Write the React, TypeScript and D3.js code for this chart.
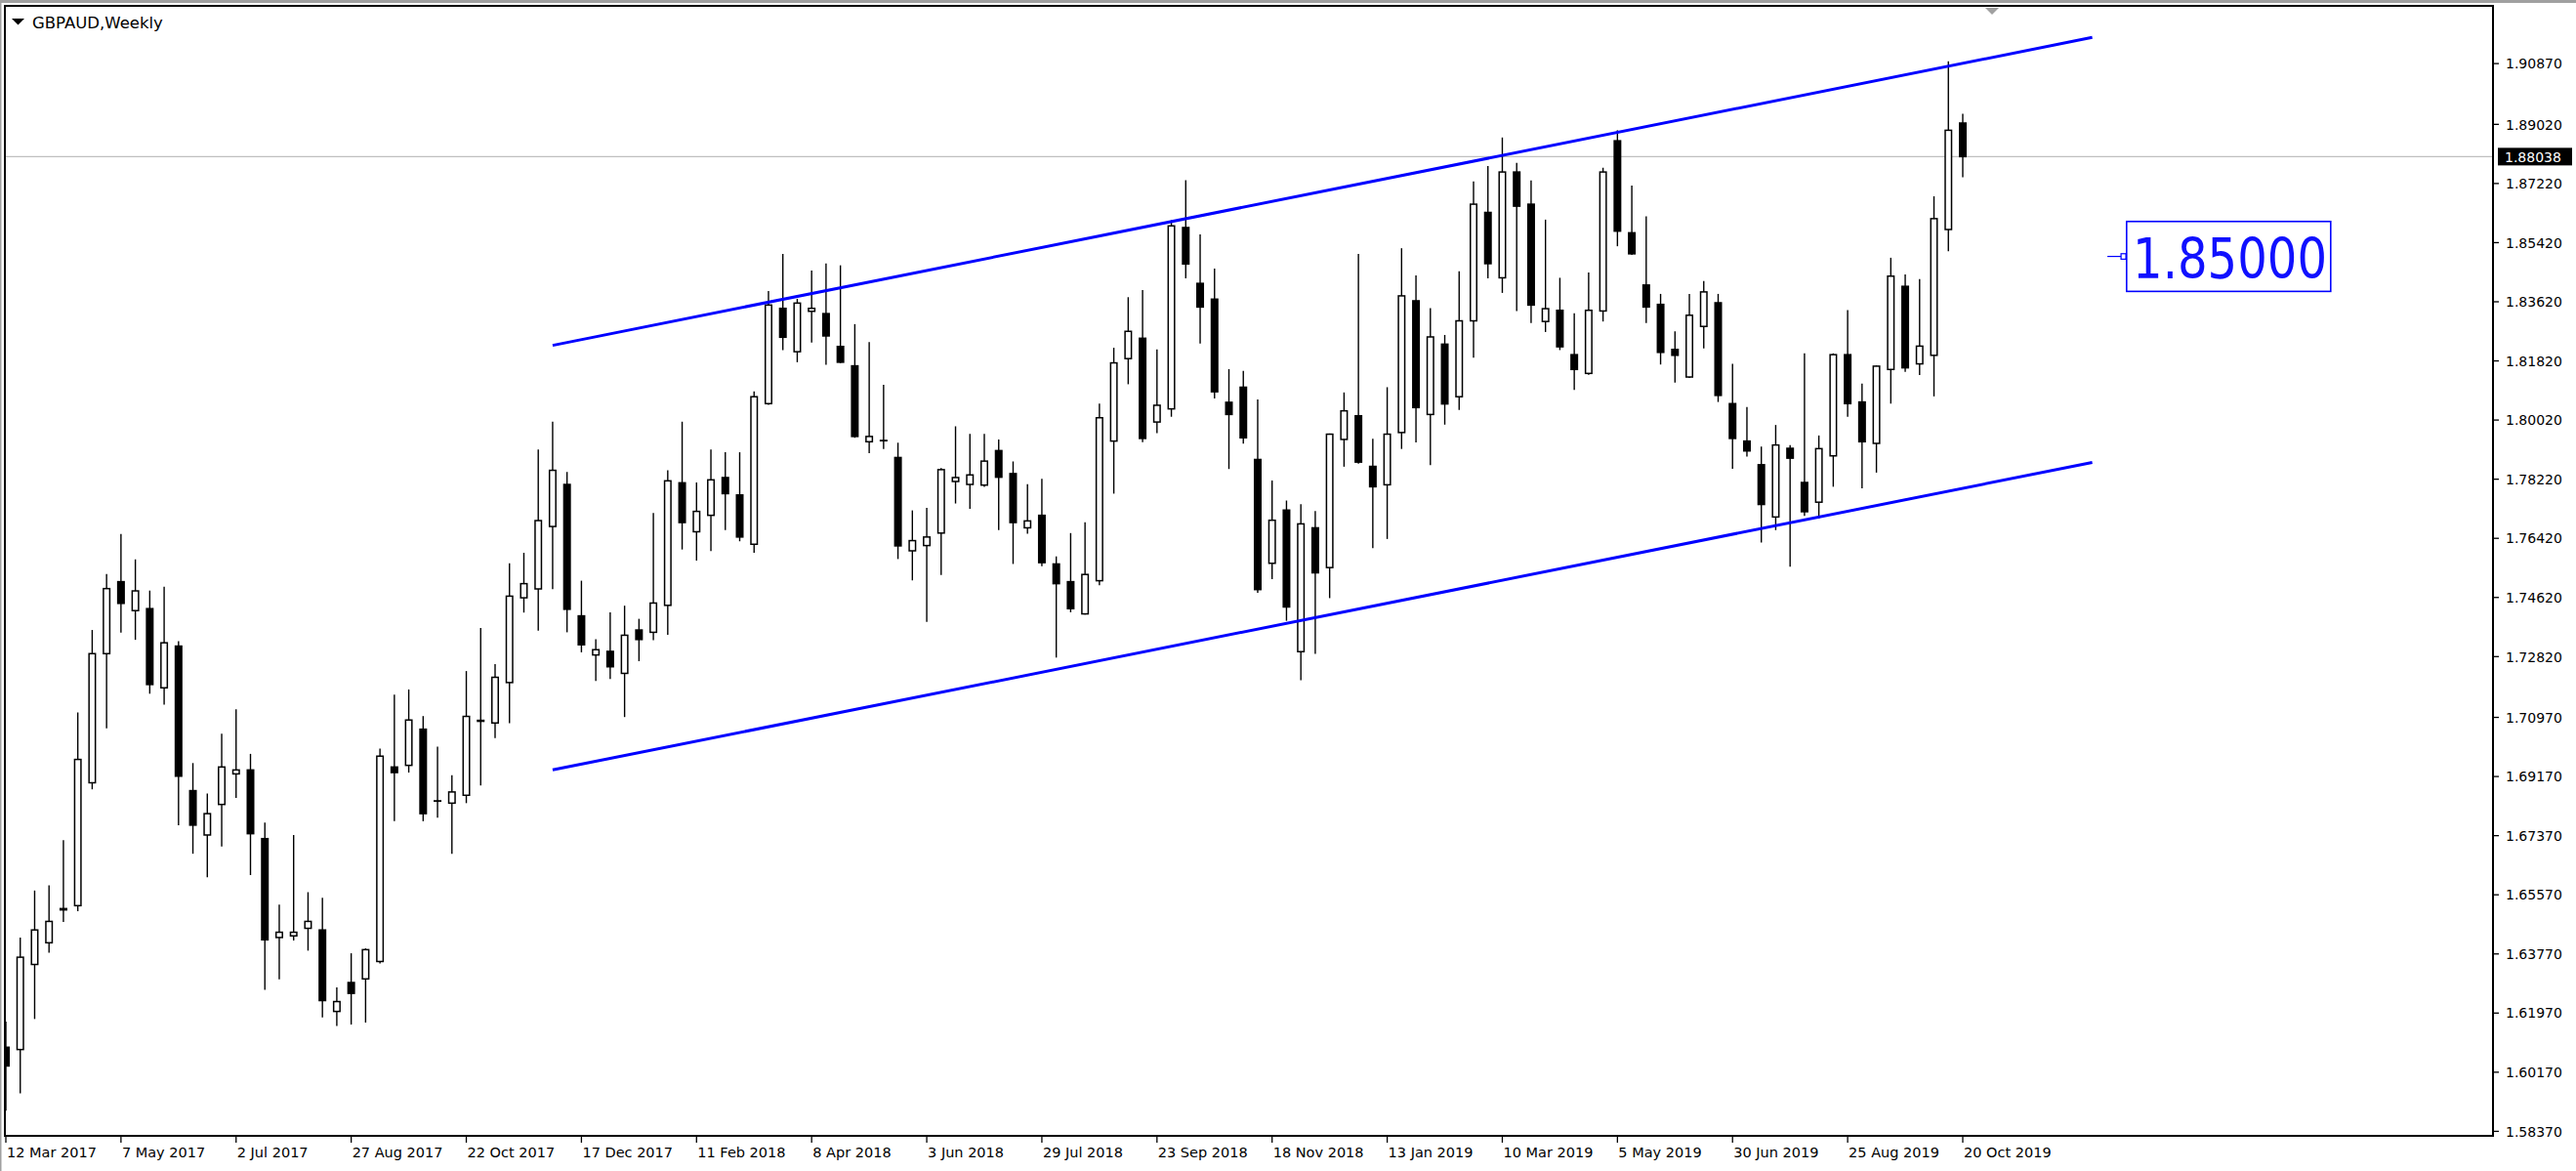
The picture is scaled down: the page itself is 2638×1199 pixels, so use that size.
import React from 'react';
import * as d3 from 'd3';

const W = 2638;
const H = 1199;

const title = 'GBPAUD,Weekly';

// tick labels on the time axis, one every 8 weekly bars starting at bar 0
const weekLabels = [
  '12 Mar 2017', '7 May 2017', '2 Jul 2017', '27 Aug 2017', '22 Oct 2017', '17 Dec 2017',
  '11 Feb 2018', '8 Apr 2018', '3 Jun 2018', '29 Jul 2018', '23 Sep 2018', '18 Nov 2018',
  '13 Jan 2019', '10 Mar 2019', '5 May 2019', '30 Jun 2019', '25 Aug 2019', '20 Oct 2019',
];
const labelEvery = 8;

const priceTicks = [
  1.9087, 1.8902, 1.8722, 1.8542, 1.8362, 1.8182, 1.8002, 1.7822, 1.7642, 1.7462,
  1.7282, 1.7097, 1.6917, 1.6737, 1.6557, 1.6377, 1.6197, 1.6017, 1.5837,
];

const opens = [
  1.6093, 1.6086, 1.6345, 1.6411, 1.6511, 1.6524, 1.6898, 1.7291, 1.7510, 1.7422,
  1.7428, 1.7187, 1.7314, 1.6874, 1.6739, 1.6832, 1.6925, 1.6937, 1.6728, 1.6427,
  1.6432, 1.6455, 1.6450, 1.6202, 1.6290, 1.6301, 1.6354, 1.6946, 1.6951, 1.7061,
  1.6842, 1.6836, 1.6860, 1.7088, 1.7080, 1.7203, 1.7461, 1.7488, 1.7678, 1.7806,
  1.7406, 1.7287, 1.7298, 1.7231, 1.7363, 1.7356, 1.7438, 1.7811, 1.7662, 1.7712,
  1.7827, 1.7774, 1.7624, 1.8052, 1.8342, 1.8210, 1.8333, 1.8326, 1.8226, 1.8167,
  1.7936, 1.7939, 1.7888, 1.7604, 1.7620, 1.7658, 1.7815, 1.7806, 1.7804, 1.7909,
  1.7839, 1.7674, 1.7712, 1.7564, 1.7510, 1.7412, 1.7513, 1.7938, 1.8189, 1.8251,
  1.7996, 1.8036, 1.8588, 1.8418, 1.8370, 1.8056, 1.8102, 1.7882, 1.7566, 1.7728,
  1.7297, 1.7674, 1.7553, 1.7943, 1.8015, 1.7861, 1.7805, 1.7964, 1.8365, 1.8019,
  1.8233, 1.8073, 1.8304, 1.8634, 1.8435, 1.8757, 1.8659, 1.8302, 1.8336, 1.8201,
  1.8144, 1.8334, 1.8852, 1.8572, 1.8413, 1.8354, 1.8217, 1.8133, 1.8287, 1.8359,
  1.8052, 1.7938, 1.7866, 1.7707, 1.7916, 1.7812, 1.7752, 1.7893, 1.8201, 1.8057,
  1.7931, 1.8156, 1.8409, 1.8173, 1.8199, 1.8582, 1.8906,
];
const highs = [
  1.6171, 1.6427, 1.6570, 1.6586, 1.6723, 1.7112, 1.7363, 1.7533, 1.7655, 1.7578,
  1.7483, 1.7495, 1.7329, 1.6958, 1.6865, 1.7047, 1.7122, 1.6986, 1.6777, 1.6527,
  1.6739, 1.6565, 1.6548, 1.6275, 1.6379, 1.6394, 1.7002, 1.7166, 1.7182, 1.7101,
  1.7008, 1.6921, 1.7238, 1.7369, 1.7259, 1.7566, 1.7598, 1.7912, 1.7997, 1.7844,
  1.7513, 1.7335, 1.7417, 1.7437, 1.7397, 1.7719, 1.7849, 1.7997, 1.7812, 1.7912,
  1.7904, 1.7904, 1.8089, 1.8395, 1.8508, 1.8371, 1.8457, 1.8479, 1.8473, 1.8294,
  1.8239, 1.8109, 1.7933, 1.7727, 1.7735, 1.7856, 1.7983, 1.7960, 1.7960, 1.7943,
  1.7876, 1.7807, 1.7823, 1.7587, 1.7658, 1.7691, 1.8052, 1.8222, 1.8376, 1.8398,
  1.8217, 1.8610, 1.8732, 1.8567, 1.8463, 1.8157, 1.8152, 1.8065, 1.7818, 1.7757,
  1.7746, 1.7725, 1.7961, 1.8086, 1.8508, 1.7945, 1.8102, 1.8525, 1.8442, 1.8343,
  1.8261, 1.8455, 1.8728, 1.8775, 1.8862, 1.8785, 1.8731, 1.8612, 1.8435, 1.8327,
  1.8451, 1.8770, 1.8884, 1.8716, 1.8622, 1.8386, 1.8272, 1.8386, 1.8425, 1.8386,
  1.8173, 1.8042, 1.7921, 1.7987, 1.7926, 1.8205, 1.7955, 1.8205, 1.8337, 1.8113,
  1.8168, 1.8496, 1.8445, 1.8431, 1.8683, 1.9094, 1.8934,
];
const lows = [
  1.5900, 1.5953, 1.6179, 1.6381, 1.6474, 1.6507, 1.6878, 1.7064, 1.7355, 1.7333,
  1.7169, 1.7136, 1.6769, 1.6682, 1.6610, 1.6704, 1.6852, 1.6617, 1.6268, 1.6300,
  1.6418, 1.6387, 1.6184, 1.6158, 1.6162, 1.6168, 1.6348, 1.6781, 1.6929, 1.6781,
  1.6792, 1.6682, 1.6836, 1.6890, 1.7034, 1.7079, 1.7416, 1.7361, 1.7487, 1.7356,
  1.7295, 1.7208, 1.7214, 1.7098, 1.7268, 1.7332, 1.7348, 1.7608, 1.7574, 1.7603,
  1.7667, 1.7633, 1.7598, 1.8048, 1.8215, 1.8178, 1.8238, 1.8170, 1.8175, 1.7948,
  1.7901, 1.7914, 1.7579, 1.7514, 1.7388, 1.7530, 1.7748, 1.7732, 1.7799, 1.7667,
  1.7564, 1.7656, 1.7557, 1.7279, 1.7417, 1.7410, 1.7499, 1.7778, 1.8111, 1.7935,
  1.7962, 1.8012, 1.8433, 1.8235, 1.8068, 1.7853, 1.7930, 1.7476, 1.7518, 1.7391,
  1.7210, 1.7290, 1.7460, 1.7860, 1.7869, 1.7612, 1.7640, 1.7914, 1.7934, 1.7865,
  1.7988, 1.8033, 1.8192, 1.8433, 1.8389, 1.8334, 1.8297, 1.8270, 1.8215, 1.8094,
  1.8140, 1.8302, 1.8531, 1.8505, 1.8297, 1.8171, 1.8116, 1.8130, 1.8220, 1.8057,
  1.7854, 1.7891, 1.7629, 1.7667, 1.7556, 1.7710, 1.7702, 1.7799, 1.8012, 1.7794,
  1.7842, 1.8052, 1.8149, 1.8139, 1.8074, 1.8516, 1.8741,
];
const closes = [
  1.6036, 1.6367, 1.6450, 1.6476, 1.6515, 1.6969, 1.7291, 1.7489, 1.7444, 1.7482,
  1.7197, 1.7324, 1.6918, 1.6769, 1.6804, 1.6946, 1.6937, 1.6743, 1.6420, 1.6443,
  1.6443, 1.6476, 1.6235, 1.6232, 1.6257, 1.6390, 1.6979, 1.6929, 1.7089, 1.6804,
  1.6843, 1.6870, 1.7100, 1.7085, 1.7219, 1.7466, 1.7504, 1.7696, 1.7849, 1.7426,
  1.7318, 1.7303, 1.7251, 1.7347, 1.7334, 1.7445, 1.7817, 1.7690, 1.7724, 1.7820,
  1.7778, 1.7646, 1.8073, 1.8352, 1.8254, 1.8358, 1.8342, 1.8258, 1.8178, 1.7952,
  1.7952, 1.7940, 1.7619, 1.7635, 1.7646, 1.7851, 1.7827, 1.7835, 1.7877, 1.7828,
  1.7690, 1.7695, 1.7568, 1.7504, 1.7428, 1.7532, 1.8009, 1.8176, 1.8272, 1.7946,
  1.8047, 1.8593, 1.8477, 1.8346, 1.8088, 1.8019, 1.7948, 1.7486, 1.7697, 1.7433,
  1.7686, 1.7537, 1.7959, 1.8030, 1.7874, 1.7799, 1.7959, 1.8380, 1.8040, 1.8255,
  1.8051, 1.8304, 1.8659, 1.8478, 1.8757, 1.8653, 1.8352, 1.8341, 1.8225, 1.8156,
  1.8336, 1.8757, 1.8577, 1.8508, 1.8346, 1.8208, 1.8199, 1.8321, 1.8392, 1.8077,
  1.7946, 1.7908, 1.7745, 1.7926, 1.7886, 1.7723, 1.7915, 1.8201, 1.8052, 1.7936,
  1.8166, 1.8440, 1.8161, 1.8227, 1.8615, 1.8884, 1.88038,
];

const lastPrice = 1.88038;

// channel trend lines: [bar index, price] anchors
const upperChannel = [[38, 1.82294], [145, 1.91667]];
const lowerChannel = [[38, 1.69372], [145, 1.7873]];

const priceLabelBar = 147;
const priceLabelValue = 1.85;
const priceLabelText = '1.85000';

const FONT = '"DejaVu Sans", Verdana, sans-serif';

export default function App() {
  const left = 5, top = 6, right = 2553, bottom = 1163;
  const lastBar = opens.length - 1;
  const x = d3.scaleLinear().domain([0, lastBar]).range([6, 2010]);
  const y = d3.scaleLinear().domain([1.5837, 1.9087]).range([1158.4, 65.1]);

  const bars = d3.range(opens.length);
  const bodyW = 6.5;
  const line = d3.line<number[]>().x(d => x(d[0])).y(d => y(d[1]));

  const pl = x(priceLabelBar);
  const plY = y(priceLabelValue);

  return (
    <svg width={W} height={H} style={{ position: 'absolute', left: 0, top: 0, display: 'block', background: '#fff' }}
      xmlns="http://www.w3.org/2000/svg">
      <defs>
        <clipPath id="plot">
          <rect x={left + 1} y={top + 1} width={right - left - 2} height={bottom - top - 2} />
        </clipPath>
      </defs>
      <rect x={0} y={0} width={W} height={H} fill="#fff" />
      <rect x={0} y={0} width={W} height={3} fill="#a0a0a0" />
      <rect x={0} y={0} width={1.5} height={H} fill="#a0a0a0" />

      {/* current price line */}
      <line x1={left} x2={right} y1={y(lastPrice)} y2={y(lastPrice)} stroke="#c0c0c0" strokeWidth={1.3} />

      <g clipPath="url(#plot)">
        {bars.map(i => {
          const cx = x(i);
          const o = opens[i], c = closes[i];
          const yt = y(Math.max(o, c));
          const yb = y(Math.min(o, c));
          const bull = c >= o;
          return (
            <g key={i}>
              <line x1={cx} x2={cx} y1={y(highs[i])} y2={y(lows[i])} stroke="#000" strokeWidth={1.4} />
              <rect x={cx - bodyW / 2} y={yt} width={bodyW} height={Math.max(yb - yt, 0.01)}
                fill={bull ? '#fff' : '#000'} stroke="#000" strokeWidth={1.5} />
            </g>
          );
        })}
        <path d={line(upperChannel) || ''} stroke="#0000ff" strokeWidth={3} fill="none" />
        <path d={line(lowerChannel) || ''} stroke="#0000ff" strokeWidth={3} fill="none" />
      </g>

      {/* price label object */}
      <line x1={pl - 14} x2={pl} y1={plY} y2={plY} stroke="#0000ff" strokeWidth={1.2} />
      <rect x={pl} y={plY - 2.8} width={5} height={5.6} fill="#fff" stroke="#0000ff" strokeWidth={1.2} />
      <rect x={pl + 5.7} y={plY - 35.8} width={209} height={71.6} fill="#fff" stroke="#0000ff" strokeWidth={1.6} />
      <text x={pl + 12} y={plY + 22.5} fontFamily={FONT} fontSize={57} fill="#1010ff"
        textLength={199} lengthAdjust="spacingAndGlyphs">{priceLabelText}</text>

      {/* plot frame */}
      <rect x={left} y={top} width={right - left} height={bottom - top} fill="none" stroke="#000" strokeWidth={2} />

      {/* chart shift marker */}
      <polygon points={`${2033},${8} ${2047},${8} ${2040},${15}`} fill="#a0a0a0" />

      {/* title */}
      <polygon points="12,19 25,19 18.5,25.5" fill="#000" />
      <text x={33} y={28.5} fontFamily={FONT} fontSize={16.5} fill="#000">{title}</text>

      {/* price axis */}
      {priceTicks.map(p => (
        <g key={p}>
          <line x1={right} x2={right + 6} y1={y(p)} y2={y(p)} stroke="#000" strokeWidth={1.3} />
          <text x={2566} y={y(p) + 5.2} fontFamily={FONT} fontSize={14} fill="#000">{p.toFixed(5)}</text>
        </g>
      ))}
      <rect x={2558} y={y(lastPrice) - 9} width={76} height={18} fill="#000" />
      <text x={2565} y={y(lastPrice) + 5.2} fontFamily={FONT} fontSize={14} fill="#fff">{lastPrice.toFixed(5)}</text>

      {/* time axis */}
      {weekLabels.map((lab, k) => {
        const xi = x(k * labelEvery);
        return (
          <g key={lab}>
            <line x1={xi} x2={xi} y1={bottom} y2={bottom + 7} stroke="#000" strokeWidth={1.3} />
            <text x={xi + 1} y={1185} fontFamily={FONT} fontSize={14.5} fill="#000">{lab}</text>
          </g>
        );
      })}
    </svg>
  );
}
